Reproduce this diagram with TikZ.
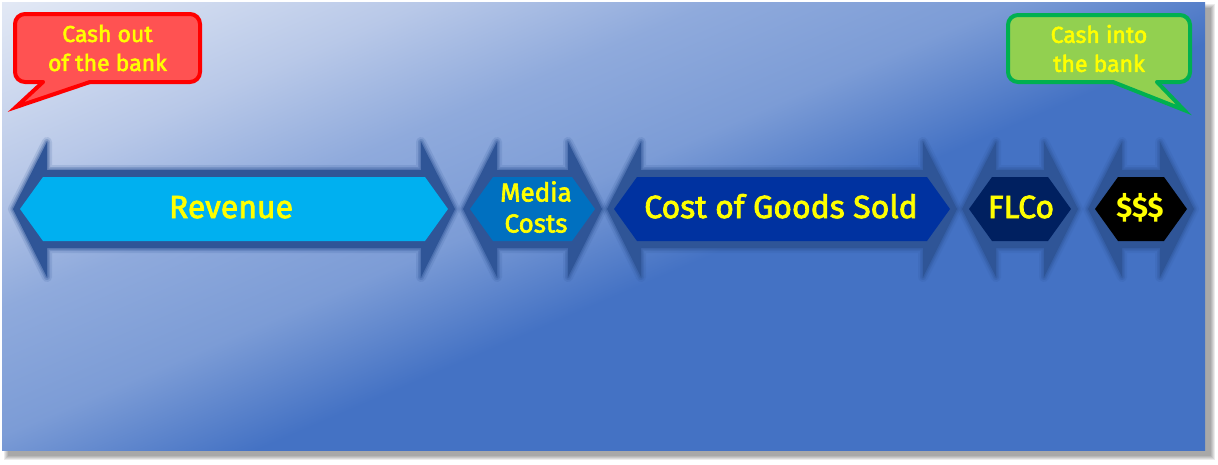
\documentclass[tikz,border=0pt]{standalone}
\usepackage{fontspec}
\setmainfont{Fira Sans}
\newfontfamily\bandfont{Fira Sans}[FakeBold=2.4]
\usetikzlibrary{positioning}
\definecolor{BgLight}{HTML}{E3E9F5}
\definecolor{BgMidA}{HTML}{B8C8E8}
\definecolor{BgMidB}{HTML}{8FAADC}
\definecolor{BgMidC}{HTML}{7C9CD6}
\definecolor{BgBlue}{HTML}{4472C4}
\definecolor{EdgeBlue}{HTML}{2F5597}
\definecolor{RevFill}{HTML}{00B0F0}
\definecolor{MediaFill}{HTML}{0070C0}
\definecolor{CogsFill}{HTML}{0032A0}
\definecolor{FlcoFill}{HTML}{002060}
\definecolor{CashFill}{HTML}{000000}
\definecolor{LabelYellow}{HTML}{FFFF00}
\definecolor{RedFill}{HTML}{FF5252}
\definecolor{RedLine}{HTML}{FF0000}
\definecolor{GreenFill}{HTML}{92D050}
\definecolor{GreenLine}{HTML}{00B050}
\pgfdeclarehorizontalshading{panelshade}{100bp}{color(0bp)=(BgLight); color(32.7bp)=(BgLight);
  color(39.2bp)=(BgMidA); color(43.6bp)=(BgMidB); color(48.1bp)=(BgMidC);
  color(52.5bp)=(BgBlue); color(100bp)=(BgBlue)}
\tikzset{
  bandglow/.style={draw=EdgeBlue, line join=round},
  lbl/.style={text=LabelYellow, inner sep=0pt, align=center,
              font=\bandfont\fontsize{32}{38}\selectfont},
  lblsmall/.style={lbl, font=\bandfont\fontsize{26}{31}\selectfont},
  callout/.style={rounded corners=10pt, line width=4pt, inner sep=0pt,
                  align=center, text=LabelYellow,
                  font=\bandfont\fontsize{23}{29}\selectfont},
  tipline/.style={line width=4pt, line cap=round, line join=miter},
}
\newcommand{\bandshape}[2]{(#1,209) -- (#1+34,142) -- (#1+34,170) -- (#2-34,170)
  -- (#2-34,142) -- (#2,209) -- (#2-34,277) -- (#2-34,248) -- (#1+34,248)
  -- (#1+34,277) -- cycle}
\newcommand{\flowband}[3]{%
  \foreach \w/\o in {10/0.15,6/0.25,3/0.35}
    \draw[bandglow, line width=\w pt, opacity=\o] \bandshape{#1}{#2};
  \fill[EdgeBlue] \bandshape{#1}{#2};
  \fill[#3] (#1+7,209) -- (#1+30,177) -- (#2-30,177) -- (#2-7,209)
    -- (#2-30,241) -- (#1+30,241) -- cycle;
}

\begin{document}
\begin{tikzpicture}[x=1pt, y=-1pt]
  \useasboundingbox (0,0) rectangle (1218,464);
  \fill[white] (0,0) rectangle (1218,464);

  % ---- panel with soft shadow ----
  \foreach \e in {4,3,2,1,0}
    \fill[black, opacity=0.08] (8-\e,8-\e) rectangle (1211+\e,456+\e);
  \begin{scope}
    \clip (2,2) rectangle (1205,450);
    \shade[shading=panelshade, shading angle=-66.8] (-50,-418) rectangle (1250,882);
  \end{scope}

  % ---- flow bands, left to right ----
  \flowband{13}{455}{RevFill}
  \flowband{463}{602}{MediaFill}
  \flowband{607}{957}{CogsFill}
  \flowband{962}{1078}{FlcoFill}
  \flowband{1088}{1194}{CashFill}

  \node[lbl, anchor=base] (revenue) at (231,218) {Revenue};
  \node[lblsmall] (media) at (536,207) {Media\\Costs};
  \node[lbl, anchor=base] (cogs) at (781,218) {Cost of Goods Sold};
  \node[lbl, anchor=base] (flco) at (1021,218) {FLCo};
  \node[lbl, anchor=base, font=\bfseries\fontsize{29}{34}\selectfont] (profit) at (1140,217) {\$\$\$};

  % ---- callouts ----
  \node[callout, fill=RedFill, draw=RedLine, minimum width=185pt, minimum height=68pt]
       (cashout) at (107.5,48) {Cash out\\of the bank};
  \fill[RedFill] (43,78) -- (90,78) -- (90,82) -- (16,107) -- (43,82) -- cycle;
  \draw[tipline, draw=RedLine] (43,82) -- (16,107) -- (90,82);

  \node[callout, fill=GreenFill, draw=GreenLine, minimum width=182pt, minimum height=67pt]
       (cashin) at (1099,48.5) {Cash into\\the bank};
  \fill[GreenFill] (1113,78) -- (1157,78) -- (1157,82) -- (1184,110) -- (1113,82) -- cycle;
  \draw[tipline, draw=GreenLine] (1113,82) -- (1184,110) -- (1157,82);
\end{tikzpicture}
\end{document}
